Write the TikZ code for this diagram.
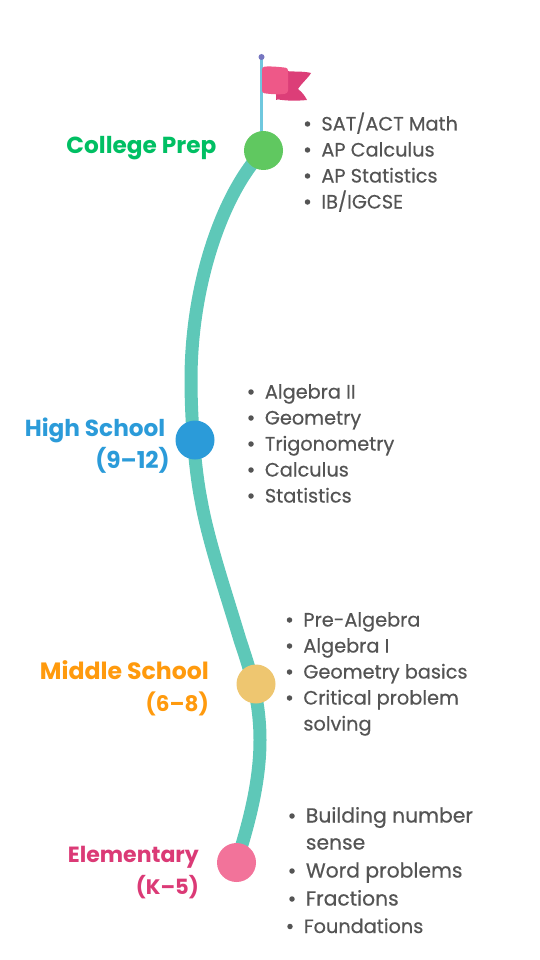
\documentclass[tikz,border=0pt]{standalone}
\usepackage{fontspec}
\setmainfont{Poppins}
\newfontfamily\itemfont[RawFeature={embolden=0.5}]{Poppins}
\definecolor{teal1}{HTML}{5EC8B8}
\definecolor{txt}{HTML}{545454}
\definecolor{cgreen}{HTML}{00BF63}
\definecolor{cblue}{HTML}{2B9BD9}
\definecolor{corange}{HTML}{FF9A0D}
\definecolor{cpink}{HTML}{DB3A76}
\definecolor{dotpink}{RGB}{242,115,154}
\definecolor{dotyellow}{RGB}{238,198,112}
\definecolor{dotgreen}{RGB}{96,200,96}
\tikzset{
  dot/.style={circle,inner sep=0pt,minimum size=39pt},
  head/.style={font=\fontsize{23.2}{32}\selectfont\bfseries,anchor=base east,inner sep=0pt},
  item/.style={font=\itemfont\fontsize{19.3}{26}\selectfont,text=txt,anchor=base west,inner sep=0pt},
  itemb/.style={item,font=\itemfont\fontsize{20.3}{26}\selectfont},
  bull/.style={circle,fill=txt,inner sep=0pt,minimum size=5.5pt},
}
\newcommand{\lst}[4]{\node[bull] at (#1,#2) {};\node[item] (#4) at (#1+13.7,#2+6.5) {#3};}
\newcommand{\lstb}[4]{\node[bull] at (#1,#2) {};\node[itemb] (#4) at (#1+13.7,#2+6.5) {#3};}
\begin{document}
\begin{tikzpicture}[x=1pt,y=-1pt]
\useasboundingbox (0,0) rectangle (540,960);
% pole
\coordinate (poletop) at (261.5,57);
\coordinate (polebot) at (261.5,150);
\draw[line width=2.6pt,color={rgb,255:red,111;green,200;blue,222}] (poletop) -- (polebot);
\node[circle,fill={rgb,255:red,118;green,118;blue,192},inner sep=0pt,minimum size=6pt] (knob) at (poletop) {};
% flag
\fill[color={rgb,255:red,196;green,40;blue,100}] (276,92) -- (276,100) -- (285,96) -- cycle;
\fill[color={rgb,255:red,220;green,62;blue,120}] (286,71) .. controls (295,72) and (303,71) .. (311,73) .. controls (309,77) and (301,84) .. (298,89) .. controls (302,92) and (305,96) .. (307,100) .. controls (297,101) and (285,101) .. (276,99) -- (276,92) -- (286,92) -- cycle;
\fill[color={rgb,255:red,238;green,88;blue,136},rounded corners=2.5pt] (262,67) .. controls (270,66) and (280,67) .. (288,68) -- (288,93) .. controls (280,95) and (270,94) .. (262,93) -- cycle;
% path
\coordinate (el) at (236.5,862.5);
\coordinate (mi) at (256,684);
\coordinate (hi) at (195,440);
\coordinate (co) at (263.5,150.5);
\coordinate (p2) at (260,740);
\coordinate (p3) at (201,500);
\coordinate (p4) at (191,380);
\draw[line width=13pt,teal1] (el) .. controls (250,820) and (260,780) .. (p2)
  .. controls (260,700) and (250,670) .. (240,640)
  .. controls (225,590) and (208,540) .. (p3)
  .. controls (195,470) and (191,420) .. (p4)
  .. controls (191,280) and (225,190) .. (co);
\node[dot,fill=dotpink] (ndel) at (el) {};
\node[dot,fill=dotyellow] (ndmi) at (mi) {};
\node[dot,fill=cblue] (ndhi) at (hi) {};
\node[dot,fill=dotgreen] (ndco) at (co) {};
% headings
\node[head,text=cgreen] (h1) at (216.5,154) {College Prep};
\node[head,text=cblue] (h2) at (165.5,436) {High School};
\node[head,text=cblue] (h2b) at (170,468) {(9–12)};
\node[head,text=corange,font=\fontsize{23.6}{32}\selectfont\bfseries] (h3) at (209,679) {Middle School};
\node[head,text=corange,font=\fontsize{21.5}{32}\selectfont\bfseries] (h3b) at (209,711) {(6–8)};
\node[head,text=cpink,font=\fontsize{22}{32}\selectfont\bfseries] (h4) at (199,862) {Elementary};
\node[head,text=cpink,font=\fontsize{21}{32}\selectfont\bfseries] (h4b) at (199,894) {(K–5)};
% lists
\lst{307.5}{124}{SAT/ACT Math}{a1}
\lst{307.5}{150}{AP Calculus}{a2}
\lst{307.5}{176}{AP Statistics}{a3}
\lst{307.5}{202}{IB/IGCSE}{a4}
\lst{251}{392}{Algebra II}{b1}
\lst{251}{418}{Geometry}{b2}
\lst{251}{444}{Trigonometry}{b3}
\lst{251}{470}{Calculus}{b4}
\lst{251}{496}{Statistics}{b5}
\lst{289.5}{620}{Pre-Algebra}{c1}
\lst{289.5}{646}{Algebra I}{c2}
\lst{289.5}{672}{Geometry basics}{c3}
\lst{289.5}{698}{Critical problem}{c4}
\node[item] (c5) at (303.2,730.5) {solving};
\lstb{292}{816}{Building number}{d1}
\node[itemb] (d2) at (305.7,849.5) {sense};
\lstb{292}{871}{Word problems}{d3}
\lstb{292}{899}{Fractions}{d4}
\lst{290}{926.5}{Foundations}{d5}
\end{tikzpicture}
\end{document}
